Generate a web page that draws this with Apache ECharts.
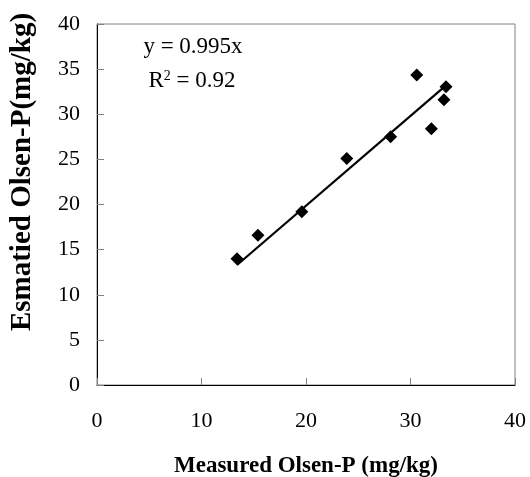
<!DOCTYPE html>
<html>
<head>
<meta charset="utf-8">
<script src="https://cdn.jsdelivr.net/npm/echarts@6/dist/echarts.min.js"></script>
<style>
  html, body { margin: 0; padding: 0; background: #fff; }
  #main { width: 530px; height: 477px; }
</style>
</head>
<body>
<div id="main"></div>
<script>
// measured vs estimated Olsen-P
var measured = [13.4, 15.4, 19.6, 23.9, 28.1, 30.6, 32.0, 33.2, 33.4]
var estimated = [14.0, 16.6, 19.2, 25.1, 27.5, 34.35, 28.4, 31.6, 33.05]
// fitted line endpoints (y = 0.995x)
var fitX = [13.4, 33.4]
var fitY = [13.3, 33.2]

var serif = "Liberation Serif"

var points = measured.map(function (x, i) { return [x, estimated[i]] })
var fitLine = fitX.map(function (x, i) { return [x, fitY[i]] })

var myChart = echarts.init(document.getElementById("main"))
var option = {
  animation: false,
  grid: {
    left: 97,
    right: 15,
    top: 24,
    bottom: 92,
    outerBoundsMode: "none",
    show: true,
    borderColor: "#808080",
    borderWidth: 1
  },
  xAxis: {
    type: "value",
    min: 0,
    max: 40,
    interval: 10,
    name: "Measured Olsen-P (mg/kg)",
    nameLocation: "middle",
    nameGap: 70,
    nameTextStyle: { fontFamily: serif, fontWeight: "bold", fontSize: 23, color: "#000" },
    axisLine: { lineStyle: { color: "#000", width: 1 } },
    axisTick: { inside: true, length: 7, lineStyle: { color: "#808080" } },
    axisLabel: { fontFamily: serif, fontSize: 22, color: "#000", margin: 25 },
    splitLine: { show: false }
  },
  yAxis: {
    type: "value",
    min: 0,
    max: 40,
    interval: 5,
    axisLine: { show: true, lineStyle: { color: "#000", width: 1 } },
    axisTick: { show: true, inside: true, length: 7, lineStyle: { color: "#808080" } },
    axisLabel: { fontFamily: serif, fontSize: 22, color: "#000", margin: 17 },
    splitLine: { show: false }
  },
  graphic: [
    {
      type: "text",
      x: 23,
      y: 172,
      rotation: Math.PI / 2,
      style: {
        text: "Esmatied Olsen-P(mg/kg)",
        fontFamily: serif,
        fontWeight: "bold",
        fontSize: 29,
        fill: "#000",
        align: "center",
        verticalAlign: "middle"
      }
    },
    {
      type: "text",
      x: 193,
      y: 47,
      style: {
        text: "y = 0.995x",
        fontFamily: serif,
        fontSize: 23,
        fill: "#000",
        align: "center",
        verticalAlign: "middle"
      }
    },
    {
      type: "text",
      x: 192,
      y: 81,
      style: {
        text: "R{sup|2} = 0.92",
        fontFamily: serif,
        fontSize: 23,
        fill: "#000",
        align: "center",
        verticalAlign: "middle",
        rich: {
          sup: { fontFamily: serif, fontSize: 14, verticalAlign: "top", padding: [0, 0, 10, 0] }
        }
      }
    }
  ],
  series: [
    {
      type: "line",
      data: fitLine,
      symbol: "none",
      lineStyle: { color: "#000", width: 2.2 },
      z: 2
    },
    {
      type: "scatter",
      data: points,
      symbol: "diamond",
      symbolSize: 13,
      itemStyle: { color: "#000", opacity: 1 },
      z: 3
    }
  ]
}
myChart.setOption(option)
</script>
</body>
</html>
